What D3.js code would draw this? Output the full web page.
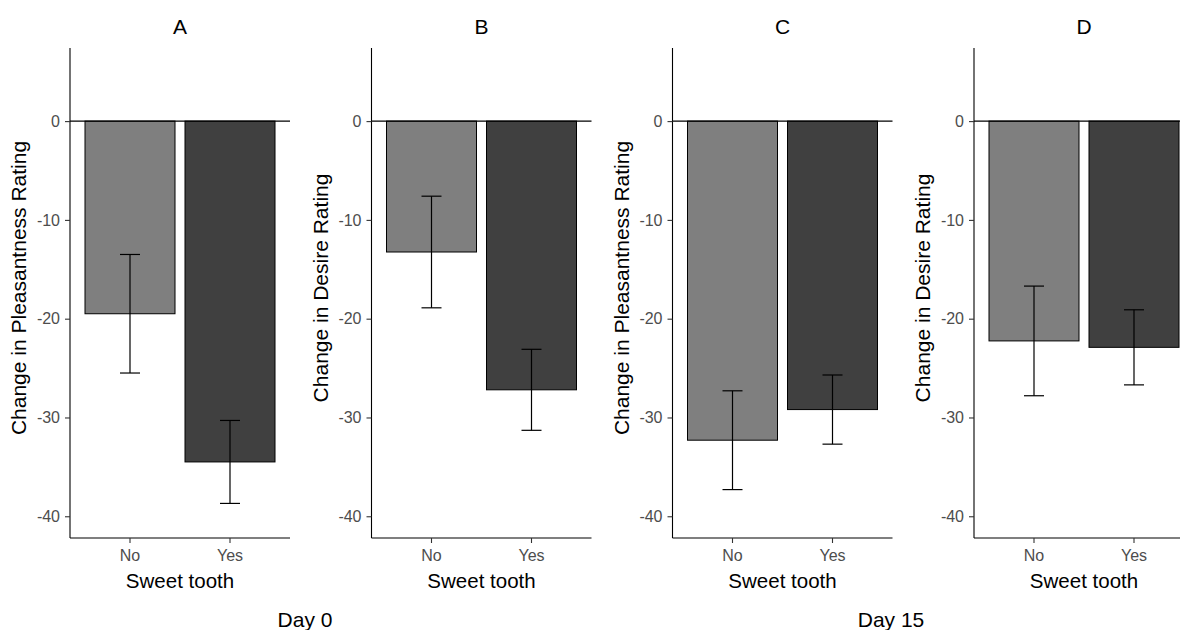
<!DOCTYPE html>
<html>
<head>
<meta charset="utf-8">
<script src="https://cdn.jsdelivr.net/npm/d3@7"></script>
<style>
  html, body { margin: 0; padding: 0; background: #fff; }
  svg { display: block; font-family: "Liberation Sans", Arial, sans-serif; }
</style>
</head>
<body>
<svg id="chart" width="1180" height="630"></svg>
<script>
// ---- data ----
const panelLabels = ["A", "B", "C", "D"];
const yTitles = ["Change in Pleasantness Rating", "Change in Desire Rating",
                 "Change in Pleasantness Rating", "Change in Desire Rating"];
const categories = ["No", "Yes"];
const meanNo  = [-19.5, -13.25, -32.3, -22.25];
const meanYes = [-34.5, -27.2, -29.2, -22.9];
const errNo   = [6.0, 5.65, 5.0, 5.55];
const errYes  = [4.2, 4.1, 3.5, 3.8];
const yTicks  = [0, -10, -20, -30, -40];
const xTitle  = "Sweet tooth";
const dayLabels = ["Day 0", "Day 15"];
const fills = { "No": "#7f7f7f", "Yes": "#404040" };

// ---- layout ----
const svg = d3.select("#chart");
const panelX0 = [70, 371.5, 672.5, 974];
const panelW = 220;
const plotTop = 48, plotBottom = 538;
const FONT = "'Liberation Sans', Arial, sans-serif";

const y = d3.scaleLinear().domain([7.4, -42.2]).range([plotTop, plotBottom]);

panelLabels.forEach((lab, i) => {
  const x0 = panelX0[i];
  const x = d3.scaleBand().domain(categories).range([x0, x0 + panelW])
    .paddingInner(0.1).paddingOuter(0.15);
  const g = svg.append("g");
  const data = categories.map((c) => ({
    cat: c,
    mean: c === "No" ? meanNo[i] : meanYes[i],
    err:  c === "No" ? errNo[i] : errYes[i]
  }));

  // bars
  g.selectAll("rect.bar").data(data).join("rect")
    .attr("class", "bar")
    .attr("x", d => x(d.cat))
    .attr("width", x.bandwidth())
    .attr("y", d => y(Math.max(0, d.mean)))
    .attr("height", d => Math.abs(y(d.mean) - y(0)))
    .attr("fill", d => fills[d.cat])
    .attr("stroke", "#000")
    .attr("stroke-width", 1);

  // zero line
  g.append("line")
    .attr("x1", x0).attr("x2", x0 + panelW)
    .attr("y1", y(0)).attr("y2", y(0))
    .attr("stroke", "#000").attr("stroke-width", 1.1);

  // error bars
  const capW = x.step() * 0.2;
  const eb = g.selectAll("g.eb").data(data).join("g").attr("class", "eb")
    .attr("stroke", "#000").attr("stroke-width", 1.2);
  eb.append("line")
    .attr("x1", d => x(d.cat) + x.bandwidth() / 2)
    .attr("x2", d => x(d.cat) + x.bandwidth() / 2)
    .attr("y1", d => y(d.mean + d.err)).attr("y2", d => y(d.mean - d.err));
  eb.append("line")
    .attr("x1", d => x(d.cat) + x.bandwidth() / 2 - capW / 2)
    .attr("x2", d => x(d.cat) + x.bandwidth() / 2 + capW / 2)
    .attr("y1", d => y(d.mean + d.err)).attr("y2", d => y(d.mean + d.err));
  eb.append("line")
    .attr("x1", d => x(d.cat) + x.bandwidth() / 2 - capW / 2)
    .attr("x2", d => x(d.cat) + x.bandwidth() / 2 + capW / 2)
    .attr("y1", d => y(d.mean - d.err)).attr("y2", d => y(d.mean - d.err));

  // y axis
  const ya = g.append("g").attr("transform", `translate(${x0},0)`)
    .call(d3.axisLeft(y).tickValues(yTicks).tickSize(5).tickPadding(5).tickFormat(d => String(d)));
  ya.select(".domain").attr("d", `M0,${plotTop}V${plotBottom}`).attr("stroke", "#000").attr("stroke-width", 1.1);
  ya.selectAll(".tick line").attr("stroke", "#333").attr("stroke-width", 1.1);
  ya.selectAll(".tick text").attr("fill", "#4d4d4d").style("font-size", "16px")
    .style("font-family", FONT);

  // x axis
  const xa = g.append("g").attr("transform", `translate(0,${plotBottom})`)
    .call(d3.axisBottom(x).tickSize(5).tickPadding(7).tickSizeOuter(0));
  xa.select(".domain").attr("d", `M${x0},0H${x0 + panelW}`).attr("stroke", "#000").attr("stroke-width", 1.1);
  xa.selectAll(".tick line").attr("stroke", "#333").attr("stroke-width", 1.1);
  xa.selectAll(".tick text").attr("fill", "#4d4d4d").style("font-size", "16px")
    .style("font-family", FONT);

  // panel title
  svg.append("text").attr("x", x0 + panelW / 2).attr("y", 34)
    .attr("text-anchor", "middle").style("font-size", "21px").attr("fill", "#000")
    .text(lab);

  // x title
  svg.append("text").attr("x", x0 + panelW / 2).attr("y", 588)
    .attr("text-anchor", "middle").style("font-size", "20.5px").attr("fill", "#000")
    .text(xTitle);

  // y title
  svg.append("text")
    .attr("transform", `translate(${x0 - 44},${(plotTop + plotBottom) / 2 - 5}) rotate(-90)`)
    .attr("text-anchor", "middle").style("font-size", "21px").attr("fill", "#000")
    .text(yTitles[i]);
});

// day labels
const dayX = [305, 891];
dayLabels.forEach((d, i) => {
  svg.append("text").attr("x", dayX[i]).attr("y", 627)
    .attr("text-anchor", "middle").style("font-size", "21px").attr("fill", "#000")
    .text(d);
});
</script>
</body>
</html>
